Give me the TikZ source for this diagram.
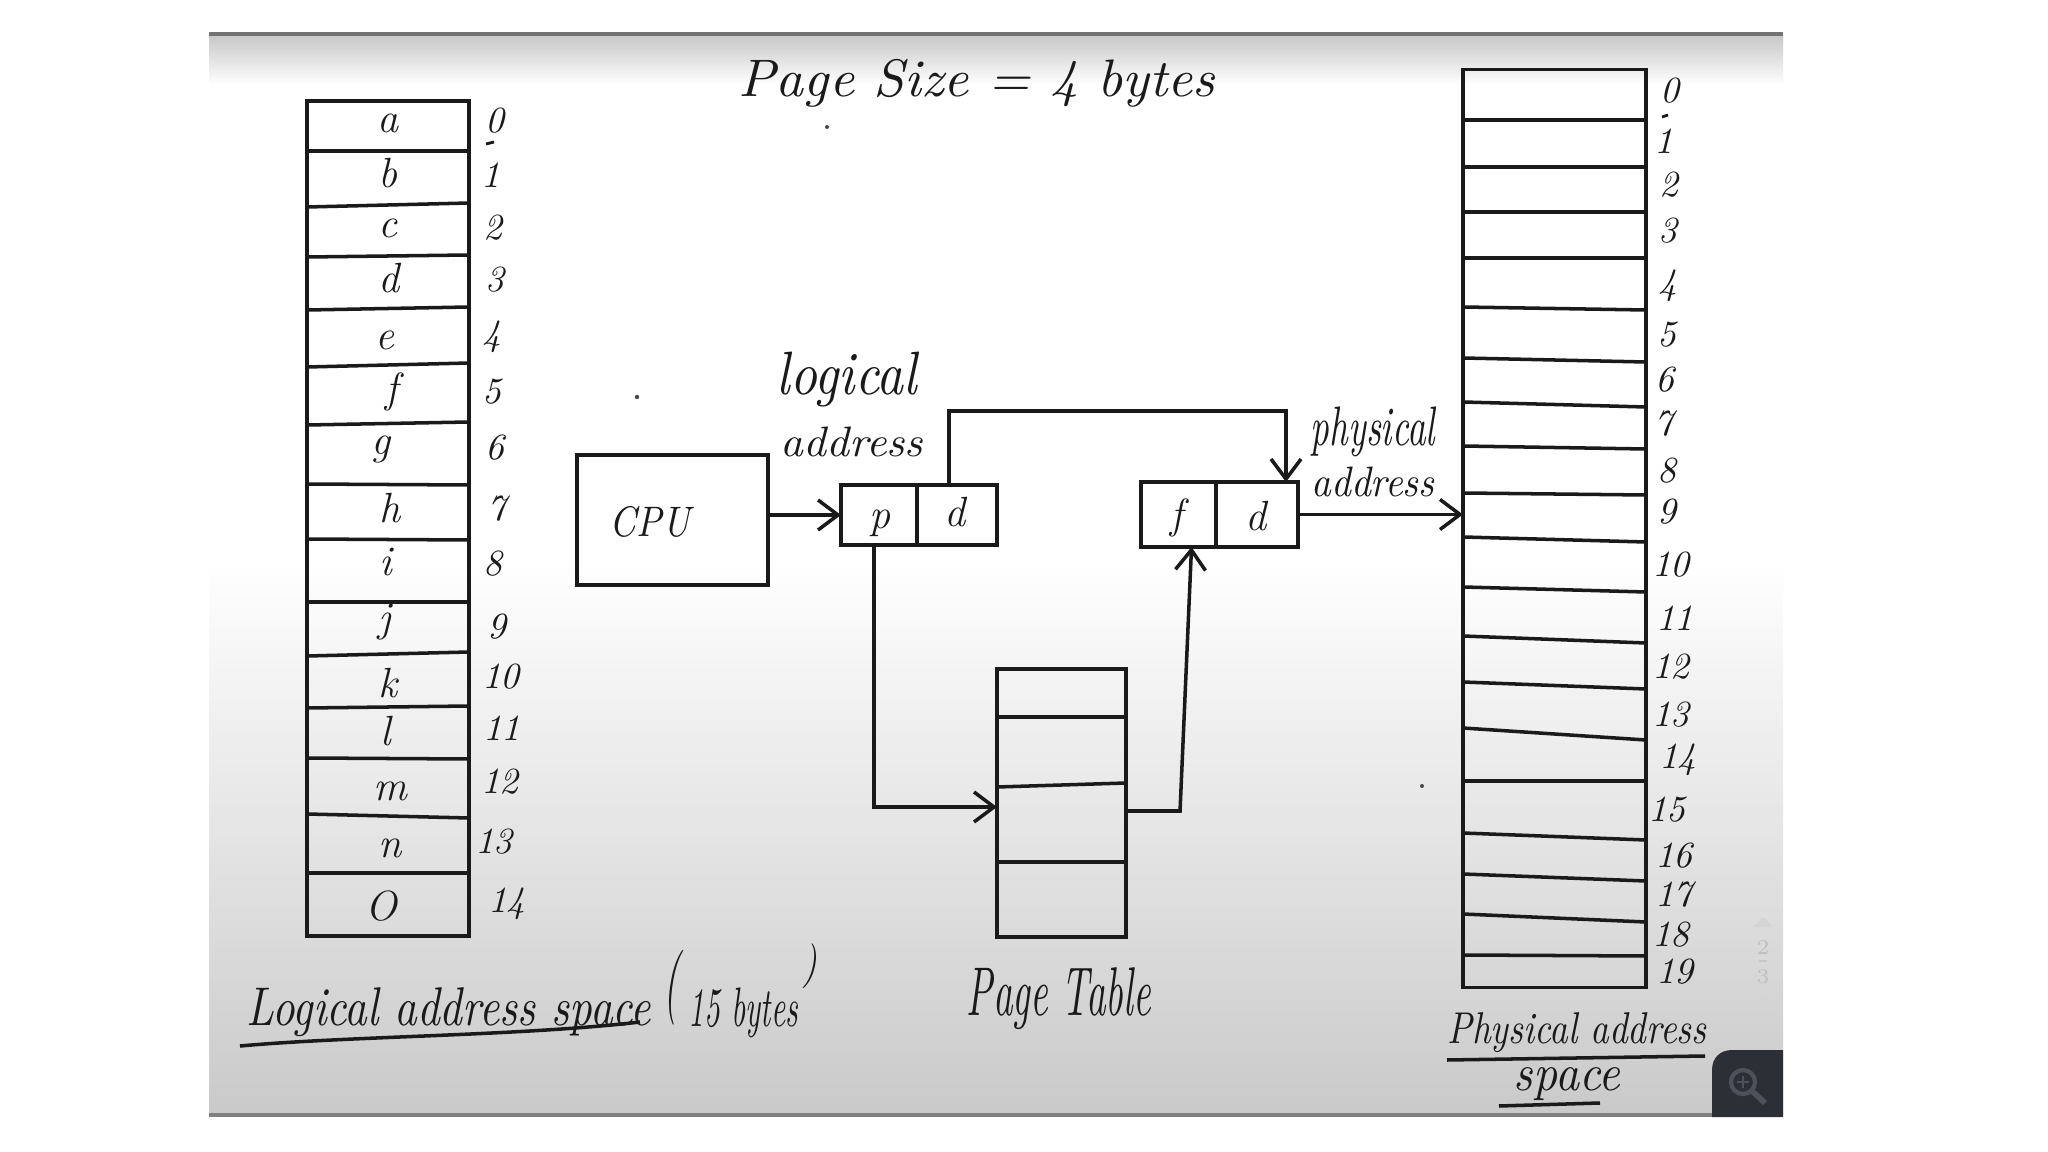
\documentclass[tikz,border=0pt]{standalone}
\usepackage{fontspec}
\usepackage{graphicx}
\usetikzlibrary{arrows.meta}
\definecolor{ink}{HTML}{1A1A1A}
\definecolor{btnc}{HTML}{2C3036}
\definecolor{iconc}{HTML}{4C525A}
\newcommand{\hw}[3]{\resizebox*{#1cm}{#2cm}{\itshape #3}}
\tikzset{
  cell/.style={draw=ink, line width=1pt, inner sep=0pt, outer sep=0pt},
  conn/.style={draw=ink, line width=1pt},
  arr/.style={conn, -{Straight Barb[length=0.2cm,width=0.3cm]}},
  lbl/.style={inner sep=0pt, outer sep=0pt, text=ink},
  letter/.style={lbl, anchor=base, font=\fontsize{12pt}{14pt}\selectfont\itshape},
  cellletter/.style={lbl, anchor=base, font=\fontsize{12pt}{14pt}\selectfont\itshape},
  numl/.style={lbl, anchor=base west, font=\fontsize{10.5pt}{12pt}\selectfont\itshape},
}
\begin{document}
\begin{tikzpicture}[x=0.01cm,y=-0.01cm]
\useasboundingbox (0,0) rectangle (2048,1152);
% ---------- background ----------
\fill[white] (0,0) rectangle (2048,1152);
\fill[white] (209,34) rectangle (1783,560);
\shade[top color=white, bottom color=black!21] (209,560) rectangle (1783,1115);
\shade[top color=black!22, bottom color=white] (209,35) rectangle (1783,85);
\draw[black!55, line width=1.2pt] (209,34) -- (1783,34);
\draw[black!50, line width=1.2pt] (209,1115) -- (1783,1115);
% viewer widgets
\fill[btnc] (1712,1117) -- (1712,1070) .. controls (1712,1058) and (1720,1050) .. (1732,1050) -- (1783,1050) -- (1783,1117) -- cycle;
\draw[iconc, line width=1.2pt] (1743,1082) circle[radius=0.12cm];
\draw[iconc, line width=1.6pt] (1752,1091) -- (1765,1103);
\draw[iconc, line width=0.8pt] (1737,1082) -- (1749,1082) (1743,1076) -- (1743,1088);
\fill[black!17] (1753,927) -- (1773,927) -- (1763,917) -- cycle;
\fill[black!17] (1753,997) -- (1773,997) -- (1763,1010) -- cycle;
\node[lbl, text=black!25, font=\fontsize{6pt}{7pt}\selectfont] (sc2) at (1763,947) {2};
\draw[black!22, line width=0.5pt] (1759,961) -- (1767,961);
\node[lbl, text=black!25, font=\fontsize{6pt}{7pt}\selectfont] (sc3) at (1763,977) {3};
% specks
\fill[ink!80] (827,127) circle[radius=0.02cm];
\fill[ink!80] (637,397) circle[radius=0.022cm];
\fill[ink!80] (1422,786) circle[radius=0.02cm];

% ---------- title ----------
\node[lbl] (title) at (977,83) {\hw{4.76}{0.48}{Page Size = 4 bytes}};

% ---------- logical address space (left column) ----------
\node[cell, minimum width=1.62cm, minimum height=8.35cm] (lcol) at (388,518.5) {};
\foreach \a/\b in {151/151,207/203,257/255,310/307,367/363,425/422,484/485,539/540,602/602,656/652,708/706,758/759,814/818,873/873}
  \draw[conn] (307,\a) -- (469,\b);
\foreach \i/\c/\x/\y in {0/a/388/133,1/b/388/188,2/c/388/238,3/d/389/293,4/e/385/350,5/f/392/403,6/g/381/455,7/h/390/523,8/i/386/575,9/j/385/632,10/k/388/697,11/l/386/745,12/m/390/800,13/n/390/857,14/O/381/920}
  \node[letter] (lt\i) at (\x,\y) {\c};
\foreach \n/\x/\y in {0/485/133,1/481/188,2/483/240,3/485/292,4/482/346,5/482/404,6/485/460,7/487/521,8/483/575,9/487/638,10/482/688,11/483/740,12/481/793,13/475/853,14/488/912}
  \node[numl] (ln\n) at (\x,\y) {\n};
\draw[ink, line width=0.8pt] (486,144) -- (494,142);
\node[lbl] (lasp) at (449,1012.5) {\hw{4.04}{0.49}{Logical address space}};
\node[lbl] (lpo) at (672,987.5) {\hw{0.16}{0.75}{(}};
\node[lbl] (lbytes) at (743.5,1013) {\hw{1.09}{0.50}{15 bytes}};
\node[lbl] (lpc) at (810,966) {\hw{0.15}{0.45}{)}};
\draw[conn] (240,1046) .. controls (350,1036) and (520,1036) .. (640,1022);

% ---------- CPU ----------
\node[cell, minimum width=1.91cm, minimum height=1.30cm] (cpu) at (672.5,520) {};
\node[lbl] (cputxt) at (650,522) {\hw{0.80}{0.31}{CPU}};

% ---------- logical address p | d ----------
\node[cell, minimum width=0.76cm, minimum height=0.60cm] (pcell) at (879,515) {};
\node[cell, minimum width=0.80cm, minimum height=0.60cm] (dcell) at (957,515) {};
\node[cellletter] (ptxt) at (880,528) {p};
\node[cellletter] (dtxt) at (955,527) {d};
\node[lbl] (logl1) at (847,380) {\hw{1.40}{0.55}{logical}};
\node[lbl] (logl2) at (852,442) {\hw{1.42}{0.30}{address}};

% ---------- physical address f | d ----------
\node[cell, minimum width=0.75cm, minimum height=0.65cm] (fcell) at (1178.5,514.5) {};
\node[cell, minimum width=0.82cm, minimum height=0.65cm] (d2cell) at (1257,514.5) {};
\node[cellletter] (ftxt) at (1177,529) {f};
\node[cellletter] (d2txt) at (1256,531) {d};
\node[lbl] (phyl1) at (1373,432) {\hw{1.24}{0.50}{physical}};
\node[lbl] (phyl2) at (1373,482) {\hw{1.23}{0.30}{address}};

% ---------- page table ----------
\node[cell, minimum width=1.29cm, minimum height=2.68cm] (pt) at (1061.5,803) {};
\draw[conn] (997,717) -- (1126,717);
\draw[conn] (997,787) -- (1126,783);
\draw[conn] (997,862) -- (1126,862);
\node[lbl] (pttxt) at (1059,999) {\hw{1.84}{0.62}{Page Table}};

% ---------- physical address space (right column) ----------
\node[cell, minimum width=1.83cm, minimum height=9.17cm] (rcol) at (1554.5,528.5) {};
\foreach \a/\b in {120/120,167/167,212/212,258/258,307/310,358/362,402/407,446/449,493/495,537/542,587/592,636/643,682/689,728/740,781/781,833/840,874/881,914/922,955/956}
  \draw[conn] (1463,\a) -- (1646,\b);
\foreach \n/\x/\y in {0/1660/103,1/1654/154,2/1659/197,3/1658/243,4/1658/295,5/1657/347,6/1655/392,7/1654/436,8/1657/482,9/1657/524,10/1652/577,11/1656/630,12/1652/678,13/1652/726,14/1659/768,15/1648/821,16/1655/867,17/1655/906,18/1652/946,19/1656/983}
  \node[numl] (rn\n) at (\x,\y) {\n};
\draw[ink, line width=0.8pt] (1662,117) -- (1668,115);
\node[lbl] (pasp1) at (1577,1033) {\hw{2.59}{0.40}{Physical address}};
\node[lbl] (pasp2) at (1567,1084) {\hw{1.06}{0.33}{space}};
\draw[conn] (1447,1060) -- (1705,1056);
\draw[conn] (1499,1106) -- (1600,1103);

% ---------- connectors ----------
\draw[arr] (cpu.east |- pcell.west) -- (pcell.west);
\draw[arr] ([xshift=-0.08cm]dcell.north) -- ++(0,-74) -| ([xshift=-0.12cm]d2cell.north east);
\draw[arr] ([xshift=-0.05cm]pcell.south) |- ([yshift=-0.04cm]pt.west);
\draw[arr] ([yshift=-0.08cm]pt.east) -- ++(54,0) -- ([xshift=0.13cm]fcell.south);
\draw[arr] (d2cell.east) -- (d2cell.east -| rcol.west);
\end{tikzpicture}
\end{document}
